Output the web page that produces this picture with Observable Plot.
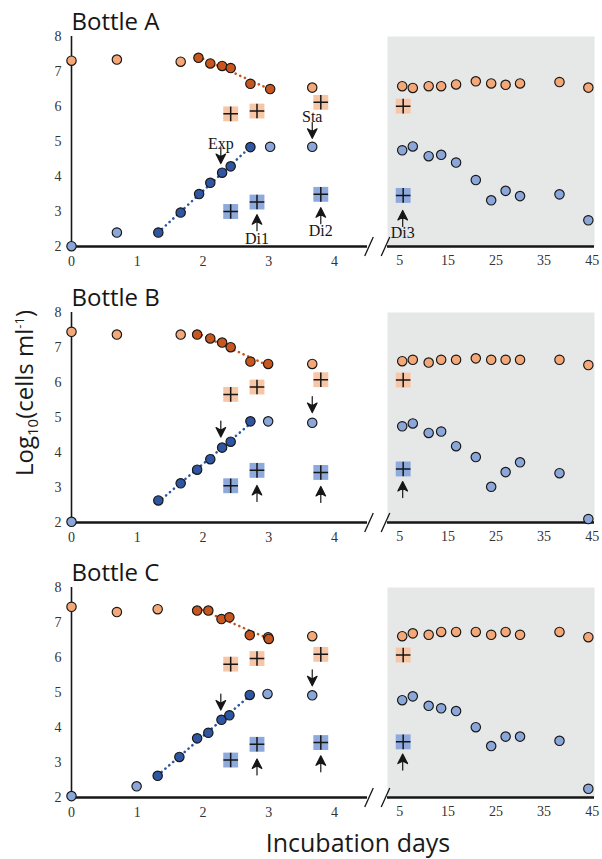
<!DOCTYPE html>
<html>
<head>
<meta charset="utf-8">
<script src="https://cdn.jsdelivr.net/npm/d3@7"></script>
<script src="https://cdn.jsdelivr.net/npm/@observablehq/plot@0.6"></script>
<style>
  html, body { margin: 0; padding: 0; background: #fff; }
  #fig { position: relative; width: 602px; height: 859px; overflow: hidden; }
  #fig > div.panel { position: absolute; }
  #fig svg g[aria-label$="tick label"], #fig svg g[aria-label$="tick label"] text {
    font-family: "Liberation Serif", "Times New Roman", serif !important; font-size: 14px !important; }
  .lbl { position: absolute; font-family: "Open Sans", sans-serif; color: #1a1a1a; white-space: nowrap; line-height: 1; }
  .lbl sub { font-size: 15px; vertical-align: -5px; line-height: 0; }
  .lbl sup { font-size: 13px; vertical-align: 9px; line-height: 0; }
</style>
</head>
<body>
<div id="fig"></div>
<script>
// ---------------- DATA ----------------
const bottles = ["Bottle A", "Bottle B", "Bottle C"];

// early phase (0-4 d), light orange circles
const orangeEarlyDays = [[0, 0.69, 1.66, 3.66], [0, 0.69, 1.66, 3.66], [0, 0.69, 1.31, 3.66]];
const orangeEarlyVals = [[7.31, 7.34, 7.28, 6.54], [7.45, 7.37, 7.37, 6.53], [7.45, 7.30, 7.38, 6.61]];
// early phase, light blue circles
const blueEarlyDays = [[0, 0.69, 3.02, 3.66], [0, 2.99, 3.66], [0, 0.99, 2.98, 3.66]];
const blueEarlyVals = [[2.01, 2.40, 4.85, 4.85], [2.02, 4.89, 4.85], [2.04, 2.32, 4.96, 4.92]];
// exponential phase, dark orange circles
const orangeExpDays = [[1.93, 2.11, 2.29, 2.42, 2.72, 3.02], [1.91, 2.11, 2.29, 2.42, 2.72, 2.99], [1.91, 2.08, 2.28, 2.40, 2.71, 2.99, 3.00]];
const orangeExpVals = [[7.39, 7.23, 7.16, 7.10, 6.65, 6.50], [7.37, 7.26, 7.14, 7.01, 6.60, 6.53], [7.34, 7.34, 7.10, 7.15, 6.64, 6.58, 6.53]];
// exponential phase, dark blue circles
const blueExpDays = [[1.32, 1.66, 1.94, 2.11, 2.29, 2.42, 2.72], [1.32, 1.66, 1.91, 2.11, 2.29, 2.42, 2.72], [1.31, 1.64, 1.91, 2.08, 2.28, 2.40, 2.71]];
const blueExpVals = [[2.40, 2.97, 3.50, 3.82, 4.11, 4.29, 4.84], [2.63, 3.12, 3.51, 3.81, 4.14, 4.31, 4.89], [2.62, 3.16, 3.69, 3.85, 4.22, 4.35, 4.93]];
// late phase (5-45 d)
const lateDays = [5.5, 7.7, 11.0, 13.6, 16.7, 20.8, 24.0, 27.0, 30.0, 38.2, 44.2];
const orangeLateVals = [
  [6.58, 6.53, 6.58, 6.58, 6.63, 6.72, 6.66, 6.62, 6.66, 6.70, 6.54],
  [6.61, 6.65, 6.57, 6.65, 6.65, 6.69, 6.65, 6.65, 6.65, 6.65, 6.50],
  [6.61, 6.69, 6.65, 6.73, 6.73, 6.73, 6.65, 6.73, 6.65, 6.73, 6.58]];
const blueLateVals = [
  [4.75, 4.86, 4.58, 4.62, 4.40, 3.90, 3.32, 3.59, 3.44, 3.49, 2.75],
  [4.75, 4.83, 4.56, 4.60, 4.18, 3.87, 3.02, 3.44, 3.72, 3.41, 2.10],
  [4.78, 4.89, 4.62, 4.55, 4.47, 4.01, 3.47, 3.74, 3.74, 3.62, 2.25]];
// dilution samples (squares)
const squareDays = [2.42, 2.82, 3.79, 5.7];
const orangeSquareVals = [[5.79, 5.87, 6.12, 6.01], [5.66, 5.87, 6.08, 6.07], [5.81, 5.97, 6.09, 6.07]];
const blueSquareVals = [[3.00, 3.27, 3.49, 3.46], [3.05, 3.49, 3.43, 3.53], [3.07, 3.52, 3.57, 3.59]];
// arrows (tip positions)
const downArrowDays = [2.27, 3.66];
const downArrowTips = [[4.37, 5.09], [4.44, 5.14], [4.50, 5.19]];
const upArrowDays = [2.82, 3.79, 5.6];
const upArrowTips = [[2.91, 3.11, 3.03], [3.06, 3.03, 3.17], [3.10, 3.19, 3.24]];
// arrow labels (Bottle A only)
const labelTexts = ["Exp", "Sta", "Di1", "Di2", "Di3"];
const labelDays = [2.27, 3.66, 2.82, 3.79, 5.6];
const labelVals = [4.94, 5.69, 2.23, 2.46, 2.40];

const yTicks = [2, 3, 4, 5, 6, 7, 8];
const xTicksEarly = [0, 1, 2, 3, 4];
const xTicksLate = [5, 15, 25, 35, 45];

// ---------------- STYLE ----------------
const C = {
  orangeLight: "#f5a877", orangeDark: "#c8561f",
  blueLight: "#8ba7da", blueDark: "#2f56a3",
  orangeSq: "#f7c6a6", blueSq: "#8ea9dc",
  gray: "#e6e7e7", ink: "#161616"
};
const zip = (xs, ys) => xs.map((x, i) => ({d: x, v: ys[i]}));

const plusSymbol = {draw(ctx, size) { const r = Math.sqrt(size / Math.PI); ctx.moveTo(-r, 0); ctx.lineTo(r, 0); ctx.moveTo(0, -r); ctx.lineTo(0, r); }};
const slashSymbol = {draw(ctx, size) { const r = Math.sqrt(size / Math.PI); ctx.moveTo(-r * 0.45, r); ctx.lineTo(r * 0.45, -r); }};
const arrowShape = {draw(ctx, l) {
  ctx.moveTo(0, 0); ctx.lineTo(0, -l + 5);
  ctx.moveTo(0, -l); ctx.lineTo(-4.8, -l + 9.5); ctx.lineTo(0, -l + 6.8); ctx.lineTo(4.8, -l + 9.5); ctx.closePath();
}};

const W_LEFT = 385, W_RIGHT = 232, H = 276;
const M = {marginTop: 36, marginBottom: 30};
const tickFont = "Liberation Serif, Times New Roman, serif";

function circleMarks(data, fill) {
  return Plot.dot(data, {x: "d", y: "v", r: 4.7, fill, stroke: C.ink, strokeWidth: 1.15});
}
function squareMarks(data, fill) {
  return [
    Plot.dot(data, {x: "d", y: "v", symbol: "square", r: 8.4, fill}),
    Plot.dot(data, {x: "d", y: "v", symbol: plusSymbol, r: 7.3, stroke: C.ink, strokeWidth: 1.5, fill: "none"})
  ];
}
function arrowMarks(data, rotate) {
  return Plot.vector(data, {x: "d", y: "v", length: 16, rotate, anchor: "end", shape: arrowShape, stroke: C.ink, fill: C.ink, strokeWidth: 1.2});
}

function leftPlot(i) {
  const oSq = zip(squareDays.slice(0, 3), orangeSquareVals[i].slice(0, 3));
  const bSq = zip(squareDays.slice(0, 3), blueSquareVals[i].slice(0, 3));
  const oExp = zip(orangeExpDays[i], orangeExpVals[i]);
  const bExp = zip(blueExpDays[i], blueExpVals[i]);
  const labels = i === 0 ? labelTexts.slice(0, 4).map((t, k) => ({t, d: labelDays[k], v: labelVals[k]})) : [];
  return Plot.plot({
    width: W_LEFT, height: H, marginLeft: 71, marginRight: 18, ...M,
    x: {domain: [0, 4.5]}, y: {domain: [2, 8]},
    style: {background: "transparent", overflow: "visible", fontFamily: tickFont},
    marks: [
      Plot.axisY({ticks: yTicks, tickSize: 0, tickPadding: 10, fontSize: 14, label: null, color: "#333", tickFormat: d => d}),
      Plot.axisX({ticks: xTicksEarly, tickSize: 0, tickPadding: 10, fontSize: 14, label: null, color: "#333", tickFormat: d => d}),
      Plot.ruleX([0], {stroke: C.ink, strokeWidth: 1.6}),
      Plot.ruleY([2], {stroke: C.ink, strokeWidth: 2.6}),
      Plot.dot([4.5], {x: d => d, y: () => 2, symbol: slashSymbol, r: 9.5, stroke: C.ink, strokeWidth: 1.3, dx: 1.5}),
      ...squareMarks(oSq, C.orangeSq),
      ...squareMarks(bSq, C.blueSq),
      Plot.linearRegressionY(oExp, {x: "d", y: "v", ci: 0, stroke: C.orangeDark, strokeWidth: 2.6, strokeDasharray: "0.1,5", strokeLinecap: "round"}),
      Plot.linearRegressionY(bExp, {x: "d", y: "v", ci: 0, stroke: C.blueDark, strokeWidth: 2.6, strokeDasharray: "0.1,5", strokeLinecap: "round"}),
      circleMarks(zip(orangeEarlyDays[i], orangeEarlyVals[i]), C.orangeLight),
      circleMarks(zip(blueEarlyDays[i], blueEarlyVals[i]), C.blueLight),
      circleMarks(oExp, C.orangeDark),
      circleMarks(bExp, C.blueDark),
      arrowMarks(zip(downArrowDays, downArrowTips[i]), 180),
      arrowMarks(zip(upArrowDays.slice(0, 2), upArrowTips[i].slice(0, 2)), 0),
      Plot.text(labels, {x: "d", y: "v", text: "t", fontSize: 16, fill: C.ink, fontFamily: tickFont}),
      Plot.text([bottles[i]], {frameAnchor: "top-left", text: d => d, textAnchor: "start", lineAnchor: "bottom", dy: -7, dx: 0,
        fontSize: 24, fontFamily: "Open Sans, sans-serif", fill: C.ink})
    ]
  });
}

function rightPlot(i) {
  const oSq = zip(squareDays.slice(3), orangeSquareVals[i].slice(3));
  const bSq = zip(squareDays.slice(3), blueSquareVals[i].slice(3));
  const labels = i === 0 ? [{t: labelTexts[4], d: labelDays[4], v: labelVals[4]}] : [];
  return Plot.plot({
    width: W_RIGHT, height: H, marginLeft: 17, marginRight: 8, ...M,
    x: {domain: [2.44, 45.48]}, y: {domain: [2, 8], axis: null},
    style: {background: "transparent", overflow: "visible", fontFamily: tickFont},
    marks: [
      Plot.frame({fill: C.gray, stroke: "none"}),
      Plot.axisX({ticks: xTicksLate, tickSize: 0, tickPadding: 9, fontSize: 14, label: null, color: "#333", tickFormat: d => d}),
      Plot.ruleY([2], {stroke: C.ink, strokeWidth: 2.6}),
      Plot.dot([2.44], {x: d => d, y: () => 2, symbol: slashSymbol, r: 9.5, stroke: C.ink, strokeWidth: 1.3, dx: -2}),
      ...squareMarks(oSq, C.orangeSq),
      ...squareMarks(bSq, C.blueSq),
      circleMarks(zip(lateDays, orangeLateVals[i]), C.orangeLight),
      circleMarks(zip(lateDays, blueLateVals[i]), C.blueLight),
      arrowMarks(zip(upArrowDays.slice(2), upArrowTips[i].slice(2)), 0),
      Plot.text(labels, {x: "d", y: "v", text: "t", fontSize: 16, fill: C.ink, fontFamily: tickFont})
    ]
  });
}

const fig = document.getElementById("fig");
const tops = [0, 276, 551];
bottles.forEach((b, i) => {
  const l = document.createElement("div");
  l.className = "panel"; l.style.left = "0px"; l.style.top = tops[i] + "px";
  l.appendChild(leftPlot(i));
  fig.appendChild(l);
  const r = document.createElement("div");
  r.className = "panel"; r.style.left = "370px"; r.style.top = tops[i] + "px";
  r.appendChild(rightPlot(i));
  fig.appendChild(r);
});

const yl = document.createElement("div");
yl.className = "lbl";
yl.style.fontSize = "24px";
yl.style.left = "24px"; yl.style.top = "393px";
yl.style.transform = "translate(-50%, -50%) rotate(-90deg)";
yl.innerHTML = "Log<sub>10</sub>(cells ml<sup>-1</sup>)";
fig.appendChild(yl);

const xl = document.createElement("div");
xl.className = "lbl";
xl.style.fontSize = "25px";
xl.style.left = "358px"; xl.style.top = "830px";
xl.style.transform = "translateX(-50%)";
xl.textContent = "Incubation days";
fig.appendChild(xl);
</script>
</body>
</html>
